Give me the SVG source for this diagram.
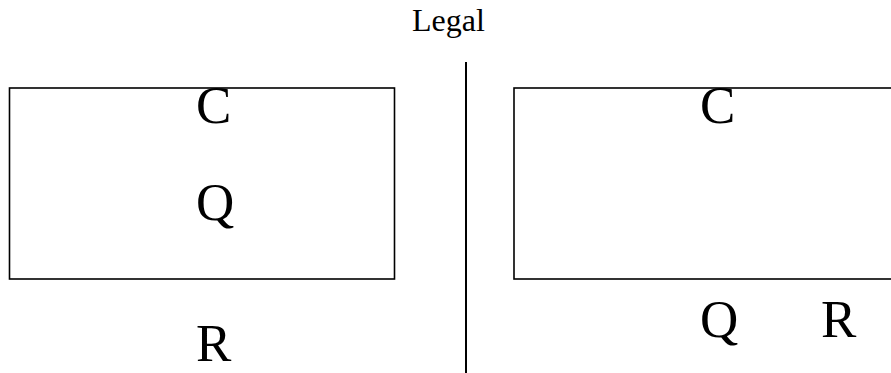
<svg xmlns="http://www.w3.org/2000/svg" width="891" height="373" viewBox="0 0 891 373">
<style>
.box{fill:none;stroke:#000;stroke-width:1.6}
.t{font-family:"Liberation Serif","Times New Roman",serif;fill:#000}
.big{font-size:53px}
</style>
<rect width="891" height="373" fill="#fff"/>
<text class="t" x="412" y="31" font-size="32">Legal</text>
<g id="connectors">
<line x1="466" y1="62" x2="466" y2="373" stroke="#000" stroke-width="2"/>
</g>
<g id="left-box">
<rect class="box" x="9.5" y="88" width="385" height="191"/>
<text class="t big" x="196" y="123">C</text>
<text class="t big" x="196" y="220">Q</text>
</g>
<g id="left-R"><text class="t big" x="196" y="361">R</text></g>
<g id="right-box">
<rect class="box" x="514" y="88" width="400" height="191"/>
<text class="t big" x="700" y="123">C</text>
</g>
<g id="right-Q"><text class="t big" x="700" y="337">Q</text></g>
<g id="right-R"><text class="t big" x="821" y="337">R</text></g>
</svg>
